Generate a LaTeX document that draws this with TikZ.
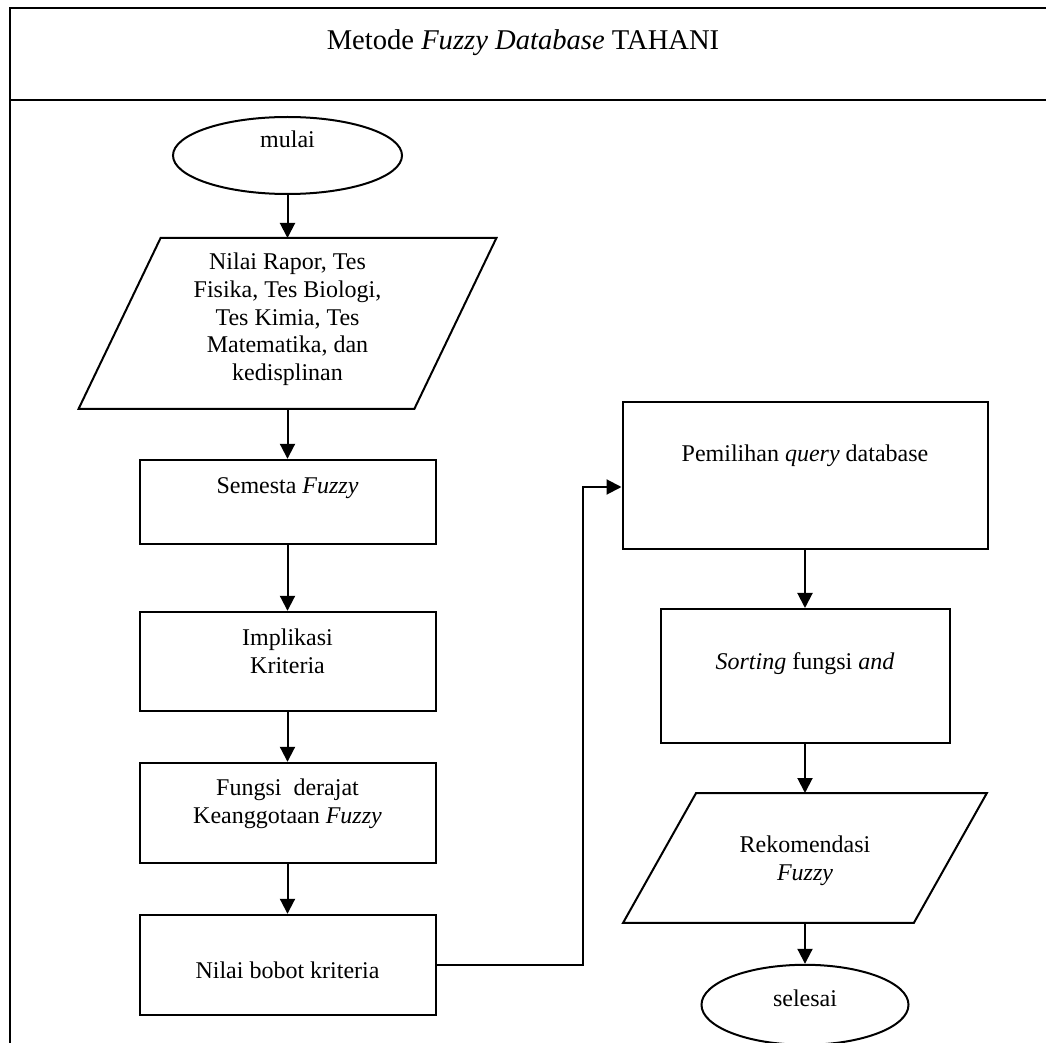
\documentclass[tikz,border=0pt]{standalone}
\usepackage{fontspec}
\setmainfont{Liberation Serif}
\usepackage{tikz}
\usetikzlibrary{shapes.geometric}
\usetikzlibrary{positioning}
\usetikzlibrary{arrows.meta}
\tikzset{
process_box/.style={rectangle, draw, line width=1pt, inner sep=0pt, minimum width=148pt},
io_box/.style={rectangle, inner sep=0pt, append after command={\pgfextra{\draw[line width=1pt]
    ([xshift=#1]\tikzlastnode.north west) -- (\tikzlastnode.north east) -- ([xshift=-#1]\tikzlastnode.south east) -- (\tikzlastnode.south west) -- cycle;}}},
terminal_box/.style={ellipse, draw, line width=1pt, inner sep=0pt},
box_text/.style={align=center, inner sep=0pt},
flow_line/.style={->, line width=1pt},
frame_line/.style={line width=1pt}
}

\begin{document}
\fontsize{12}{13.8}\selectfont
\begin{tikzpicture}[x=0.5pt, y=-0.5pt, >={Triangle[length=7.5pt,width=7.5pt]}, every label/.style={box_text}]
    \clip (0,0) rectangle (1046,1043);
    % frame and header
    \draw[frame_line] (1100,8) -- (10,8) -- (10,1100);
    \draw[frame_line] (10,100) -- (1100,100);
    \node[box_text, font=\fontsize{14.3}{16}\selectfont] (title) at (523,43) {Metode \textit{Fuzzy Database} TAHANI};

    % left column
    \node[terminal_box, minimum width=114.5pt, minimum height=38.5pt, label={[yshift=8pt]center:mulai}] (mulai) at (287.5,155.5) {};
    \node[io_box=41pt, minimum width=208.5pt, minimum height=85pt,
          label={[yshift=2pt]center:{Nilai Rapor, Tes\\Fisika, Tes Biologi,\\Tes Kimia, Tes\\Matematika, dan\\kedisplinan}}] (input) [below=21.5pt of mulai] {};
    \node[process_box, minimum height=42pt, label={[yshift=7pt]center:{Semesta \textit{Fuzzy}}}] (semesta) [below=25pt of input] {};
    \node[process_box, minimum height=49.5pt, label={[yshift=5pt]center:{Implikasi\\Kriteria}}] (implikasi) [below=33pt of semesta] {};
    \node[process_box, minimum height=50pt, label={[yshift=4.5pt]center:{Fungsi\ \ derajat\\Keanggotaan \textit{Fuzzy}}}] (fungsi) [below=25pt of implikasi] {};
    \node[process_box, minimum height=50pt, label={[yshift=-2.5pt]center:{Nilai bobot kriteria}}] (bobot) [below=25pt of fungsi] {};

    % right column
    \node[process_box, minimum width=182.5pt, minimum height=73.5pt, label={[yshift=10pt]center:{Pemilihan \textit{query} database}}] (query) at (805,475.5) {};
    \node[process_box, minimum width=144.5pt, minimum height=67pt, label={[yshift=6pt]center:{\textit{Sorting} fungsi \textit{and}}}] (sorting) [below=29pt of query] {};
    \node[io_box=36.5pt, minimum width=181.5pt, minimum height=64.5pt,
          label={[yshift=-1.5pt]center:{Rekomendasi\\\textit{Fuzzy}}}] (rekomendasi) [below=24.5pt of sorting] {};
    \node[terminal_box, minimum width=103.5pt, minimum height=40pt, label={[yshift=3.5pt]center:selesai}] (selesai) [below=20.5pt of rekomendasi] {};

    \coordinate (turn) at (583,487);

    \draw[flow_line] (mulai) -- (input);
    \draw[flow_line] (input) -- (semesta);
    \draw[flow_line] (semesta) -- (implikasi);
    \draw[flow_line] (implikasi) -- (fungsi);
    \draw[flow_line] (fungsi) -- (bobot);
    \draw[flow_line] (bobot.east) -| (turn) -- (turn -| query.west);
    \draw[flow_line] (query) -- (sorting);
    \draw[flow_line] (sorting) -- (rekomendasi);
    \draw[flow_line] (rekomendasi) -- (selesai);
\end{tikzpicture}
\end{document}
